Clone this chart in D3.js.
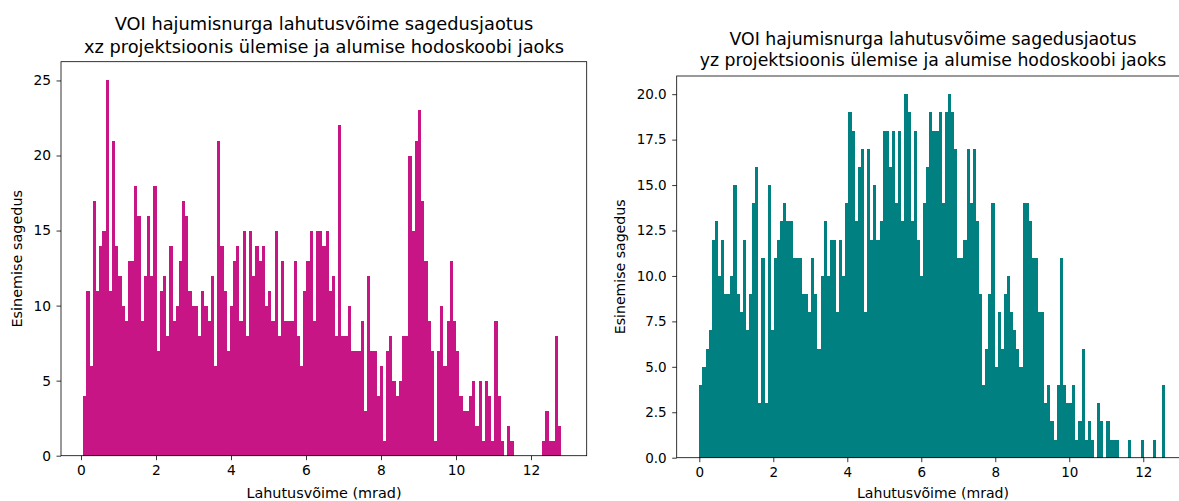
<!DOCTYPE html>
<html>
<head>
<meta charset="utf-8">
<script src="https://cdn.jsdelivr.net/npm/d3@7"></script>
<style>
  body { margin: 0; background: #fff; }
  text { font-family: "DejaVu Sans", sans-serif; fill: #000; }
</style>
</head>
<body>
<svg id="chart" width="1179" height="501"></svg>
<script>
// Histogram counts, 150 equal-width bins per projection
const xzCounts = [
  4, 11, 6, 17, 11, 14, 15, 25, 11, 21, 14, 12, 10, 9, 13, 13, 18, 16, 9, 12,
  16, 12, 18, 7, 11, 12, 8, 14, 9, 10, 13, 17, 16, 11, 10,
  10, 8, 11, 10, 9, 12, 6, 21, 14, 11, 7, 10, 13, 14, 9, 15, 8, 15, 12, 14,
  13, 14, 10, 11, 9, 15, 8, 13, 9, 9, 9, 13, 8, 6, 11, 13, 15, 9, 15, 15, 14,
  15, 11, 12, 8, 22, 8, 8, 10, 7, 7, 7, 9, 3, 12, 7, 7, 4, 6, 1, 7,
  8, 5, 4, 5, 8, 8, 20, 15, 21, 23, 17, 13, 9, 7, 1, 7, 10, 6, 9, 13, 9,
  7, 4, 3, 3, 4, 5, 2, 5, 1, 5, 4, 1, 9, 4, 1, 0, 2, 1,
  0, 0, 0, 0, 0, 0, 0, 0, 0, 1, 3, 1, 1, 8, 2
];
const yzCounts = [
  4, 5, 6, 7, 12, 13, 10, 12, 9, 9, 10, 15, 9, 8, 12, 7, 9, 14, 16, 3, 11, 3, 15,
  7, 11, 12, 13, 14, 13, 13, 11, 11, 11, 9, 9, 8, 11, 9, 6, 10, 13, 10, 12,
  12, 8, 12, 10, 14, 19, 18, 13, 16, 17, 8, 17, 12, 15, 12, 13, 18, 18, 16, 18, 14, 18, 13,
  20, 19, 13, 18, 12, 10, 14, 16, 19, 18, 18, 19, 14, 19, 20, 19, 17, 11, 11, 12,
  17, 14, 17, 13, 9, 4, 6, 9, 14, 5, 8, 6, 9, 10, 8, 7, 6, 5, 14, 14, 13, 11,
  11, 8, 8, 3, 4, 2, 1, 4, 11, 4, 3, 3, 4, 1, 2, 6, 1, 2, 1, 0, 3, 2, 0, 2, 1,
  1, 1, 0, 0, 0, 1, 0, 0, 0, 1, 0, 0, 0, 1, 0, 0, 4
];

// Histogram range (mrad) covered by the bins
const xzRange = [0.061, 12.81];
const yzRange = [0.0, 12.6];

// Tick labels
const xTicks = [0, 2, 4, 6, 8, 10, 12];
const xzYTicks = [0, 5, 10, 15, 20, 25];
const yzYTicks = [0, 2.5, 5, 7.5, 10, 12.5, 15, 17.5, 20];

// Texts
const xzTitle = ["VOI hajumisnurga lahutusvõime sagedusjaotus",
                 "xz projektsioonis ülemise ja alumise hodoskoobi jaoks"];
const yzTitle = ["VOI hajumisnurga lahutusvõime sagedusjaotus",
                 "yz projektsioonis ülemise ja alumise hodoskoobi jaoks"];
const xLabel = "Lahutusvõime (mrad)";
const yLabel = "Esinemise sagedus";

const svg = d3.select("#chart");

function drawPanel(opt) {
  const g = svg.append("g");
  const x = d3.scaleLinear().domain(opt.xDomain).range([opt.box.left, opt.box.right]);
  const y = d3.scaleLinear().domain(opt.yDomain).range([opt.box.bottom, opt.box.top]);

  const n = opt.counts.length;
  const w = (opt.range[1] - opt.range[0]) / n;
  const bins = opt.counts.map((c, i) => ({
    x0: opt.range[0] + i * w,
    x1: opt.range[0] + (i + 1) * w,
    c
  })).filter(d => d.c > 0);

  g.append("g").attr("shape-rendering", "crispEdges")
    .selectAll("rect").data(bins).join("rect")
    .attr("x", d => x(d.x0))
    .attr("width", d => x(d.x1) - x(d.x0))
    .attr("y", d => y(d.c))
    .attr("height", d => y(0) - y(d.c))
    .attr("fill", opt.color);

  const xAxis = d3.axisBottom(x).tickValues(xTicks).tickFormat(d3.format("d"))
    .tickSize(4.5).tickSizeOuter(0).tickPadding(5.5);
  const yAxis = d3.axisLeft(y).tickValues(opt.yTicks).tickFormat(opt.yFormat)
    .tickSize(4.5).tickSizeOuter(0).tickPadding(5.5);

  const gx = g.append("g").attr("transform", `translate(0,${opt.box.bottom})`).call(xAxis);
  const gy = g.append("g").attr("transform", `translate(${opt.box.left},0)`).call(yAxis);
  [gx, gy].forEach(a => {
    a.select(".domain").remove();
    a.selectAll("line").attr("stroke", "#000").attr("stroke-width", 0.8);
    a.selectAll("text").attr("font-size", opt.tickFont).attr("fill", "#000")
      .style("font-family", '"DejaVu Sans", sans-serif');
  });

  g.append("rect")
    .attr("x", opt.box.left).attr("y", opt.box.top)
    .attr("width", opt.box.right - opt.box.left)
    .attr("height", opt.box.bottom - opt.box.top)
    .attr("fill", "none").attr("stroke", "#000").attr("stroke-width", 0.8);

  opt.title.forEach((t, i) => {
    g.append("text").attr("x", opt.titleX).attr("y", opt.titleY[i])
      .attr("text-anchor", "middle").attr("font-size", opt.titleFont).text(t);
  });
  g.append("text").attr("x", opt.xLabelX).attr("y", opt.xLabelY)
    .attr("text-anchor", "middle").attr("font-size", opt.labelFont).text(xLabel);
  const cy = (opt.box.top + opt.box.bottom) / 2;
  g.append("text")
    .attr("transform", `translate(${opt.yLabelX},${cy}) rotate(-90)`)
    .attr("text-anchor", "middle").attr("font-size", opt.labelFont).text(yLabel);
}

drawPanel({
  counts: xzCounts, range: xzRange, color: "#c71585",
  box: { left: 61, right: 586.7, top: 61.7, bottom: 455.7 },
  xDomain: [-0.533, 13.485], yDomain: [0, 26.25],
  yTicks: xzYTicks, yFormat: d3.format("d"),
  title: xzTitle, titleX: 324, titleY: [30, 52.7], titleFont: 17.8,
  xLabelX: 324, xLabelY: 498, yLabelX: 22,
  tickFont: 13.8, labelFont: 14.4
});

drawPanel({
  counts: yzCounts, range: yzRange, color: "#008080",
  box: { left: 676.7, right: 1189.5, top: 76, bottom: 457.7 },
  xDomain: [-0.611, 13.25], yDomain: [0, 21],
  yTicks: yzYTicks, yFormat: d3.format(".1f"),
  title: yzTitle, titleX: 933, titleY: [45, 66], titleFont: 17.3,
  xLabelX: 933, xLabelY: 498, yLabelX: 625,
  tickFont: 13.5, labelFont: 14.1
});
</script>
</body>
</html>
